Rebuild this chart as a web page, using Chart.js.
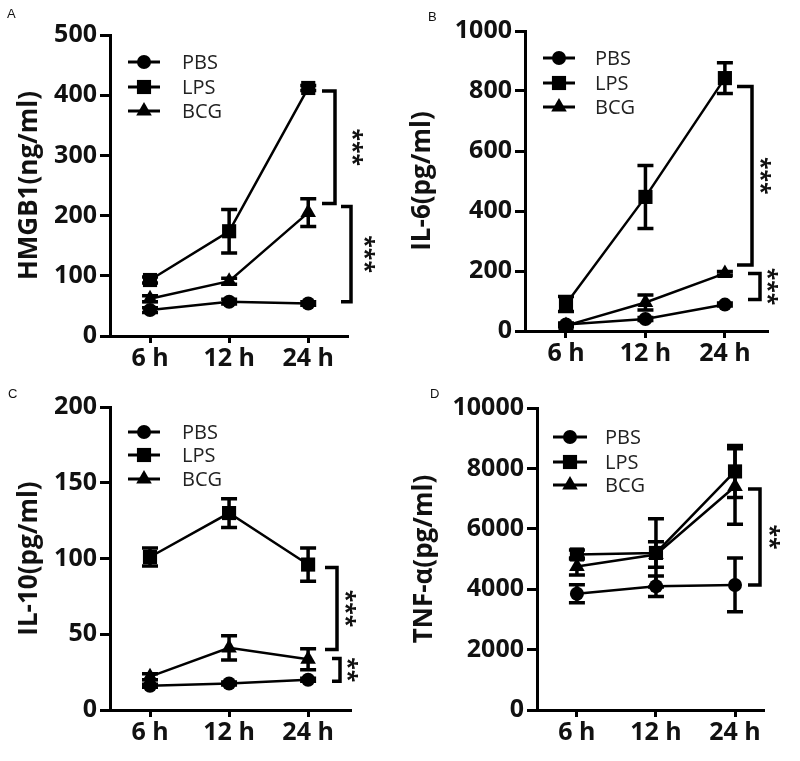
<!DOCTYPE html>
<html><head><meta charset="utf-8">
<script src="https://cdn.jsdelivr.net/npm/chart.js@4.4.1/dist/chart.umd.min.js"></script>
<style>
html,body{margin:0;padding:0;background:#fff;}
#wrap{position:relative;width:800px;height:761px;overflow:hidden;}
canvas{position:absolute;}
.letter{position:absolute;font-family:"Liberation Sans",Arial,sans-serif;font-size:13px;line-height:1;color:#111;}
</style></head><body>
<div id="wrap">
<canvas id="cA" width="400" height="380" style="left:0;top:0"></canvas>
<canvas id="cB" width="400" height="380" style="left:400px;top:0"></canvas>
<canvas id="cC" width="400" height="381" style="left:0;top:380px"></canvas>
<canvas id="cD" width="400" height="381" style="left:400px;top:380px"></canvas>
<div class="letter" style="left:7px;top:7px">A</div>
<div class="letter" style="left:428px;top:10px">B</div>
<div class="letter" style="left:8px;top:387px">C</div>
<div class="letter" style="left:430px;top:387px">D</div>
</div>
<script>
// ---------- data ----------
const categories = ['6 h', '12 h', '24 h'];
const seriesNames = ['PBS', 'LPS', 'BCG'];

// A: HMGB1 (ng/ml)
const hmgb1PBS = [43, 57, 54];
const hmgb1LPS = [93, 174, 412];
const hmgb1BCG = [62, 91, 205];
const hmgb1PBSErr = [4, 4, 3];
const hmgb1LPSErr = [5, 36, 4];
const hmgb1BCGErr = [5, 5, 23];
const hmgb1Ticks = [0, 100, 200, 300, 400, 500];
const hmgb1Sig = [[407, 220, '***'], [215, 57, '***']];

// B: IL-6 (pg/ml)
const il6PBS = [22, 40, 88];
const il6LPS = [90, 447, 843];
const il6BCG = [18, 95, 192];
const il6PBSErr = [5, 5, 5];
const il6LPSErr = [25, 105, 51];
const il6BCGErr = [5, 25, 6];
const il6Ticks = [0, 200, 400, 600, 800, 1000];
const il6Sig = [[815, 220, '***'], [192, 105, '***']];

// C: IL-10 (pg/ml)
const il10PBS = [16, 17.5, 20];
const il10LPS = [101, 130, 96];
const il10BCG = [22, 41, 33.5];
const il10PBSErr = [1, 1, 1];
const il10LPSErr = [6, 9.5, 11];
const il10BCGErr = [2, 8, 7];
const il10Ticks = [0, 50, 100, 150, 200];
const il10Sig = [[94, 40, '***'], [34, 19, '**']];

// D: TNF-α (pg/ml)
const tnfPBS = [3850, 4100, 4140];
const tnfLPS = [5150, 5200, 7900];
const tnfBCG = [4750, 5150, 7400];
const tnfPBSErr = [300, 340, 890];
const tnfLPSErr = [150, 1130, 860];
const tnfBCGErr = [280, 420, 1250];
const tnfTicks = [0, 2000, 4000, 6000, 8000, 10000];
const tnfSig = [[7315, 4143, '**']];

// ---------- styles ----------
const FONT = '"Open Sans", "Liberation Sans", Arial, sans-serif';
const pointStyles = ['circle', 'rect', 'triangle'];
const pointRadii = [7, 10, 9];

// ---------- plugins ----------
const errorBarPlugin = {
  id: 'errorBars',
  afterDatasetsDraw(chart, args, opts) {
    const ctx = chart.ctx, xs = chart.scales.x, ys = chart.scales.y;
    ctx.save();
    ctx.strokeStyle = '#000';
    ctx.lineWidth = 3.5;
    const cw = 8;
    chart.data.datasets.forEach(ds => {
      (ds.errorBars || []).forEach((e, i) => {
        if (!e) return;
        const v = ds.data[i].y;
        const px = xs.getPixelForValue(i);
        const t = ys.getPixelForValue(v + e), b = ys.getPixelForValue(v - e);
        ctx.beginPath();
        ctx.moveTo(px, t); ctx.lineTo(px, b);
        ctx.moveTo(px - cw, t); ctx.lineTo(px + cw, t);
        ctx.moveTo(px - cw, b); ctx.lineTo(px + cw, b);
        ctx.stroke();
      });
    });
    ctx.restore();
  }
};

const bracketPlugin = {
  id: 'sigBrackets',
  afterDraw(chart, args, opts) {
    const ctx = chart.ctx, ys = chart.scales.y;
    (opts.items || []).forEach((b, k) => {
      const p = opts.pos[k];
      const yt = ys.getPixelForValue(b[0]), yb = ys.getPixelForValue(b[1]);
      ctx.save();
      ctx.strokeStyle = '#000';
      ctx.lineWidth = 3.5;
      ctx.lineJoin = 'miter';
      ctx.beginPath();
      ctx.moveTo(p.left, yt); ctx.lineTo(p.x, yt); ctx.lineTo(p.x, yb); ctx.lineTo(p.left, yb);
      ctx.stroke();
      ctx.translate(p.sx, (yt + yb) / 2);
      ctx.rotate(Math.PI / 2);
      ctx.fillStyle = '#111';
      ctx.font = 'bold 23px ' + FONT;
      ctx.textAlign = 'center';
      ctx.textBaseline = 'middle';
      ctx.fillText(b[2], 0, 0);
      ctx.restore();
    });
  }
};

const legendPlugin = {
  id: 'panelLegend',
  afterDraw(chart, args, opts) {
    const ctx = chart.ctx;
    chart.data.datasets.forEach((ds, i) => {
      const yy = opts.ys[i];
      ctx.save();
      ctx.strokeStyle = '#000';
      ctx.fillStyle = '#000';
      ctx.lineWidth = 3;
      ctx.beginPath();
      ctx.moveTo(opts.x1, yy); ctx.lineTo(opts.x2, yy);
      ctx.stroke();
      Chart.helpers.drawPoint(ctx, {pointStyle: ds.pointStyle, radius: ds.pointRadius, borderWidth: 0, rotation: 0}, (opts.x1 + opts.x2) / 2, yy);
      ctx.fillStyle = '#222';
      ctx.font = '20px ' + FONT;
      ctx.textAlign = 'left';
      ctx.textBaseline = 'middle';
      ctx.fillText(ds.label, opts.tx, yy + 1);
      ctx.restore();
    });
  }
};

// ---------- chart builder ----------
function makeChart(id, c) {
  const canvas = document.getElementById(id);
  const H = canvas.height, W = canvas.width;
  const datasets = c.values.map((vals, i) => ({
    label: seriesNames[i],
    data: vals.map((v, j) => ({x: j, y: v})),
    errorBars: c.errors[i],
    borderColor: '#000',
    backgroundColor: '#000',
    borderWidth: 2.5,
    tension: 0,
    pointStyle: pointStyles[i],
    pointRadius: pointRadii[i],
    pointHoverRadius: pointRadii[i],
    pointBorderWidth: 0,
    pointBackgroundColor: '#000',
    clip: false
  }));
  return new Chart(canvas, {
    type: 'line',
    data: {datasets},
    plugins: [errorBarPlugin, bracketPlugin, legendPlugin],
    options: {
      responsive: false,
      animation: false,
      devicePixelRatio: 1,
      layout: {padding: {left: 0, top: c.top, right: W - c.right, bottom: 0}},
      plugins: {
        legend: {display: false},
        tooltip: {enabled: false},
        sigBrackets: {items: c.sig, pos: c.sigPos},
        panelLegend: c.legend
      },
      scales: {
        x: {
          type: 'linear',
          min: c.xmin, max: c.xmax,
          afterBuildTicks: s => { s.ticks = categories.map((_, i) => ({value: i})); },
          afterFit: s => { s.height = H - c.bottom; },
          ticks: {
            callback: v => categories[v],
            font: {family: FONT, size: 25, weight: 'bold'},
            color: '#111',
            padding: 1,
            maxRotation: 0,
            autoSkip: false
          },
          grid: {drawOnChartArea: false, drawTicks: true, tickLength: 7, lineWidth: 3, color: '#000'},
          border: {display: true, width: 3, color: '#000'}
        },
        y: {
          type: 'linear',
          min: 0, max: c.ticks[c.ticks.length - 1],
          afterBuildTicks: s => { s.ticks = c.ticks.map(v => ({value: v})); },
          afterFit: s => { s.width = c.yw; },
          ticks: {
            callback: v => String(v),
            font: {family: FONT, size: 25, weight: 'bold'},
            color: '#111',
            padding: 3
          },
          grid: {drawOnChartArea: false, drawTicks: true, tickLength: 10, lineWidth: 3, color: '#000'},
          border: {display: true, width: 3, color: '#000'},
          title: {
            display: true,
            text: c.title,
            font: {family: FONT, size: 26, weight: 'bold'},
            color: '#111',
            padding: {top: c.titleX - 15.6, bottom: 0}
          }
        }
      }
    }
  });
}

makeChart('cA', {
  values: [hmgb1PBS, hmgb1LPS, hmgb1BCG],
  errors: [hmgb1PBSErr, hmgb1LPSErr, hmgb1BCGErr],
  ticks: hmgb1Ticks, title: 'HMGB1(ng/ml)', sig: hmgb1Sig,
  yw: 110, top: 35, right: 347, bottom: 336, xmin: -0.506, xmax: 2.49, titleX: 30,
  sigPos: [{left: 322, x: 335, sx: 352}, {left: 341, x: 351, sx: 364}],
  legend: {x1: 128, x2: 160, tx: 182, ys: [62, 87, 111]}
});
makeChart('cB', {
  values: [il6PBS, il6LPS, il6BCG],
  errors: [il6PBSErr, il6LPSErr, il6BCGErr],
  ticks: il6Ticks, title: 'IL-6(pg/ml)', sig: il6Sig,
  yw: 125, top: 31, right: 367, bottom: 331, xmin: -0.516, xmax: 2.53, titleX: 23,
  sigPos: [{left: 337, x: 352, sx: 360}, {left: 348, x: 360, sx: 367}],
  legend: {x1: 143, x2: 175, tx: 195, ys: [58, 83, 107]}
});
makeChart('cC', {
  values: [il10PBS, il10LPS, il10BCG],
  errors: [il10PBSErr, il10LPSErr, il10BCGErr],
  ticks: il10Ticks, title: 'IL-10(pg/ml)', sig: il10Sig,
  yw: 110, top: 27, right: 350, bottom: 330, xmin: -0.506, xmax: 2.53, titleX: 30,
  sigPos: [{left: 325, x: 337, sx: 345}, {left: 332, x: 340, sx: 347}],
  legend: {x1: 128, x2: 160, tx: 182, ys: [52, 75, 99]}
});
makeChart('cD', {
  values: [tnfPBS, tnfLPS, tnfBCG],
  errors: [tnfPBSErr, tnfLPSErr, tnfBCGErr],
  ticks: tnfTicks, title: 'TNF-α(pg/ml)', sig: tnfSig,
  yw: 137, top: 28, right: 363, bottom: 330, xmin: -0.505, xmax: 2.354, titleX: 25,
  sigPos: [{left: 348, x: 360, sx: 369}],
  legend: {x1: 153, x2: 187, tx: 205, ys: [57, 82, 105]}
});
</script>
</body></html>
